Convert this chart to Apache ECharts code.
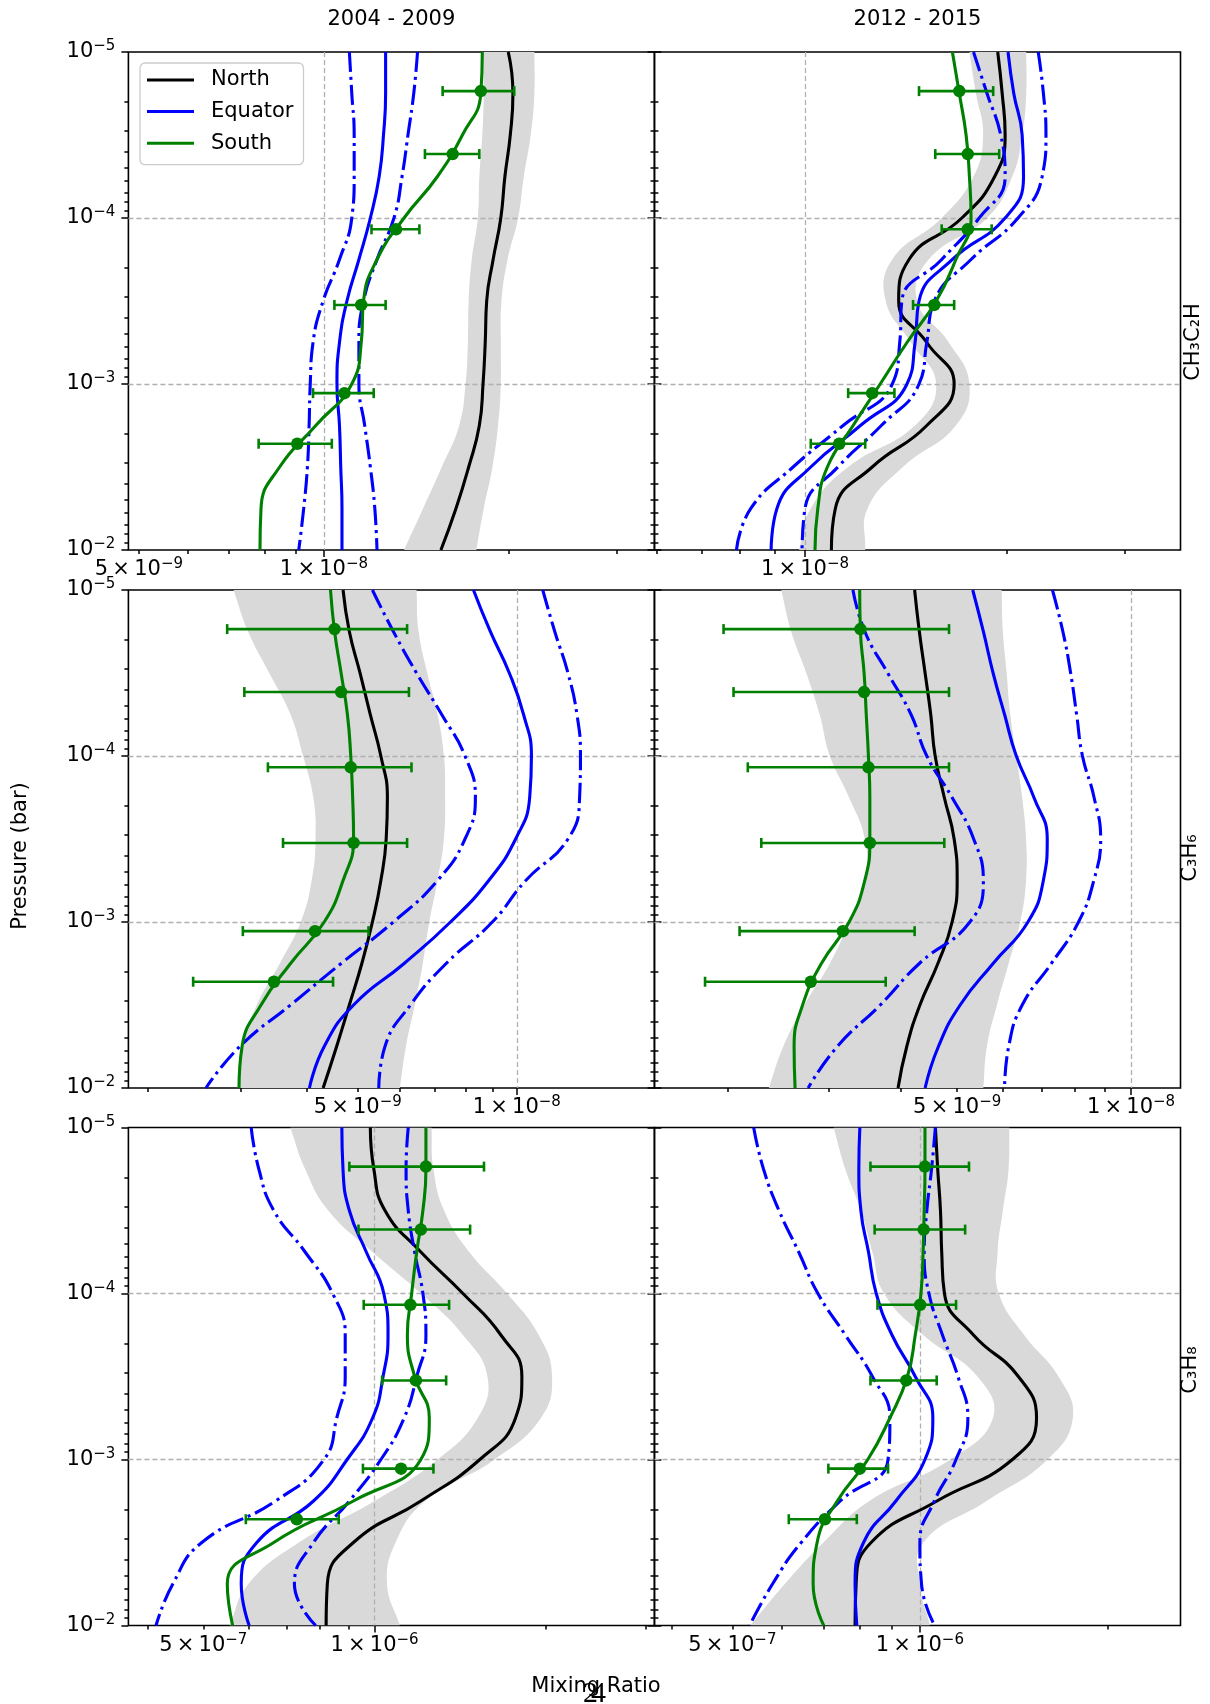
<!DOCTYPE html>
<html>
<head>
<meta charset="utf-8">
<script src="https://cdn.jsdelivr.net/npm/echarts@6/dist/echarts.min.js"></script>
<style>
  html, body { margin: 0; padding: 0; background: #ffffff; }
  #chart { width: 1210px; height: 1704px; }
</style>
</head>
<body>
<div id="chart"></div>
<script>
// ---------------------------------------------------------------------------
// Vertical mixing-ratio profiles of three hydrocarbons, two epochs.
// Curve values are listed top (1e-5 bar) to bottom (1e-2 bar) on `levels`.
// Units: CH3C2H and C3H6 in ppb (1e-9), C3H8 in ppm (1e-6).
// ---------------------------------------------------------------------------
const PPB = 1e-9;
const PPM = 1e-6;

const levels = [1.0e-5, 1.778e-5, 3.162e-5, 5.623e-5, 1.0e-4, 1.778e-4, 3.162e-4,
                5.623e-4, 1.0e-3, 1.778e-3, 3.162e-3, 5.623e-3, 1.0e-2];
const obsPressure = [1.72e-5, 4.12e-5, 1.17e-4, 3.34e-4, 1.135e-3, 2.29e-3];

const periods = ['2004 - 2009', '2012 - 2015'];
const species = ['CH₃C₂H', 'C₃H₆', 'C₃H₈'];
const regionNames = ['North', 'Equator', 'South'];

// CH3C2H, 2004 - 2009 (ppb)
const ch3c2h_early_north  = [19.95, 20.3, 20.1, 19.7, 19.4, 18.85, 18.4, 18.3, 18.15, 17.9, 17.2, 16.4, 15.5];
const ch3c2h_early_bandLo = [18.15, 18.2, 18.1, 17.9, 17.8, 17.4, 17.2, 17.15, 17.0, 16.6, 15.55, 14.5, 13.5];
const ch3c2h_early_bandHi = [22.0, 22.0, 21.7, 21.15, 20.7, 19.9, 19.45, 19.4, 19.4, 19.2, 18.8, 18.2, 17.7];
const ch3c2h_early_eq     = [12.6, 12.6, 12.5, 12.3, 11.9, 11.4, 10.9, 10.6, 10.5, 10.6, 10.65, 10.7, 10.7];
const ch3c2h_early_eqLo   = [11.0, 11.1, 11.2, 11.2, 11.1, 10.6, 9.97, 9.6, 9.5, 9.46, 9.4, 9.27, 9.1];
const ch3c2h_early_eqHi   = [14.2, 14.0, 13.7, 13.4, 13.0, 12.2, 11.6, 11.4, 11.4, 11.65, 11.9, 12.1, 12.2];
const ch3c2h_early_south  = [18.1, 18.0, 16.8, 15.3, 13.5, 12.2, 11.6, 11.5, 11.1, 9.7, 8.47, 7.9, 7.87];
const ch3c2h_early_obs    = [18.0, 16.2, 13.1, 11.5, 10.8, 9.05];
const ch3c2h_early_obsLo  = [15.6, 14.6, 11.95, 10.4, 9.6, 7.83];
const ch3c2h_early_obsHi  = [20.4, 17.9, 14.3, 12.6, 12.05, 10.3];

// CH3C2H, 2012 - 2015 (ppb)
const ch3c2h_late_north  = [19.4, 19.7, 19.9, 19.2, 17.15, 14.3, 13.8, 15.2, 16.7, 15.2, 12.6, 11.1, 10.95];
const ch3c2h_late_bandLo = [17.6, 18.0, 18.45, 17.85, 16.0, 13.5, 13.2, 14.4, 15.7, 14.6, 11.6, 10.2, 9.8];
const ch3c2h_late_bandHi = [21.4, 21.4, 21.1, 20.4, 18.7, 15.3, 14.7, 16.4, 17.6, 16.8, 14.0, 12.4, 12.3];
const ch3c2h_late_eq     = [20.1, 20.5, 21.1, 21.2, 19.9, 16.6, 14.8, 14.6, 14.2, 12.1, 10.2, 9.08, 8.9];
const ch3c2h_late_eqLo   = [17.85, 18.7, 19.6, 19.9, 18.2, 16.0, 13.95, 13.85, 13.5, 11.4, 9.6, 8.3, 7.9];
const ch3c2h_late_eqHi   = [22.3, 22.7, 22.9, 22.6, 20.8, 17.7, 15.6, 15.2, 14.8, 13.0, 11.2, 10.0, 9.9];
const ch3c2h_late_south  = [16.6, 17.0, 17.4, 17.6, 17.7, 16.8, 15.7, 14.2, 12.95, 11.8, 10.8, 10.45, 10.35];
const ch3c2h_late_obs    = [17.0, 17.5, 17.5, 15.6, 12.6, 11.25];
const ch3c2h_late_obsLo  = [14.8, 15.65, 16.0, 14.5, 11.6, 10.2];
const ch3c2h_late_obsHi  = [19.1, 19.5, 19.0, 16.7, 13.6, 12.3];

// C3H6, 2004 - 2009 (ppb)
const c3h6_early_north  = [4.69, 4.82, 5.05, 5.28, 5.53, 5.69, 5.66, 5.53, 5.33, 5.09, 4.82, 4.56, 4.30];
const c3h6_early_bandLo = [2.91, 3.10, 3.40, 3.73, 3.94, 4.12, 4.16, 4.09, 3.90, 3.56, 3.22, 3.02, 2.97];
const c3h6_early_bandHi = [6.46, 6.52, 6.77, 7.08, 7.28, 7.32, 7.28, 7.08, 6.83, 6.64, 6.41, 6.17, 6.01];
const c3h6_early_eq     = [8.28, 8.91, 9.68, 10.3, 10.66, 10.58, 9.95, 8.85, 7.49, 6.12, 4.91, 4.32, 4.05];
const c3h6_early_eqLo   = [5.33, 5.84, 6.46, 7.21, 7.98, 8.35, 7.98, 7.08, 5.84, 4.65, 3.73, 2.99, 2.58];
const c3h6_early_eqHi   = [11.2, 11.8, 12.5, 13.0, 13.2, 13.15, 12.5, 10.4, 8.99, 7.35, 6.29, 5.63, 5.48];
const c3h6_early_south  = [4.44, 4.52, 4.65, 4.78, 4.85, 4.89, 4.91, 4.69, 4.32, 3.73, 3.28, 3.02, 2.98];
const c3h6_early_obs    = [4.52, 4.65, 4.85, 4.91, 4.15, 3.47];
const c3h6_early_obsLo  = [2.83, 3.05, 3.38, 3.61, 3.03, 2.44];
const c3h6_early_obsHi  = [6.20, 6.25, 6.32, 6.20, 5.24, 4.49];

// C3H6, 2012 - 2015 (ppb)
const c3h6_late_north  = [4.22, 4.30, 4.40, 4.50, 4.58, 4.75, 4.94, 5.00, 4.90, 4.63, 4.31, 4.09, 3.95];
const c3h6_late_bandLo = [2.48, 2.58, 2.74, 2.89, 3.01, 3.25, 3.46, 3.46, 3.25, 3.01, 2.72, 2.50, 2.36];
const c3h6_late_bandHi = [5.97, 6.00, 6.09, 6.18, 6.33, 6.48, 6.58, 6.58, 6.43, 6.14, 5.86, 5.63, 5.55];
const c3h6_late_eq     = [5.32, 5.55, 5.77, 6.04, 6.33, 6.79, 7.16, 7.05, 6.63, 5.77, 5.06, 4.64, 4.40];
const c3h6_late_eqLo   = [3.30, 3.46, 3.79, 4.16, 4.43, 4.90, 5.34, 5.55, 5.26, 4.30, 3.68, 3.10, 2.76];
const c3h6_late_eqHi   = [7.31, 7.62, 7.86, 8.05, 8.24, 8.63, 8.86, 8.62, 8.11, 7.28, 6.48, 6.14, 6.04];
const c3h6_late_south  = [3.39, 3.40, 3.45, 3.48, 3.51, 3.53, 3.53, 3.46, 3.25, 2.91, 2.70, 2.61, 2.62];
const c3h6_late_obs    = [3.40, 3.45, 3.51, 3.53, 3.17, 2.79];
const c3h6_late_obsLo  = [1.97, 2.05, 2.17, 2.29, 2.10, 1.83];
const c3h6_late_obsHi  = [4.84, 4.84, 4.84, 4.75, 4.22, 3.76];

// C3H8, 2004 - 2009 (ppm)
const c3h8_early_north  = [0.983, 0.997, 1.043, 1.206, 1.43, 1.667, 1.815, 1.769, 1.531, 1.206, 0.918, 0.826, 0.822];
const c3h8_early_bandLo = [0.711, 0.755, 0.829, 0.992, 1.206, 1.43, 1.579, 1.518, 1.291, 1.0, 0.736, 0.60, 0.556];
const c3h8_early_bandHi = [1.259, 1.269, 1.325, 1.467, 1.71, 1.943, 2.051, 1.96, 1.625, 1.227, 1.089, 1.052, 1.108];
const c3h8_early_eq     = [0.876, 0.88, 0.903, 0.967, 1.038, 1.056, 1.035, 0.992, 0.895, 0.781, 0.621, 0.583, 0.602];
const c3h8_early_eqLo   = [0.607, 0.626, 0.665, 0.755, 0.844, 0.888, 0.888, 0.858, 0.815, 0.670, 0.497, 0.442, 0.413];
const c3h8_early_eqHi   = [1.146, 1.136, 1.146, 1.176, 1.216, 1.231, 1.186, 1.127, 1.026, 0.903, 0.781, 0.723, 0.788];
const c3h8_early_south  = [1.231, 1.231, 1.216, 1.186, 1.162, 1.142, 1.176, 1.248, 1.206, 0.918, 0.665, 0.551, 0.563];
const c3h8_early_obs    = [1.231, 1.206, 1.156, 1.182, 1.113, 0.730];
const c3h8_early_obsLo  = [0.903, 0.937, 0.957, 1.031, 0.954, 0.594];
const c3h8_early_obsHi  = [1.557, 1.472, 1.352, 1.336, 1.269, 0.865];

// C3H8, 2012 - 2015 (ppm)
const c3h8_late_north  = [1.059, 1.068, 1.079, 1.084, 1.095, 1.219, 1.439, 1.539, 1.408, 1.065, 0.835, 0.790, 0.787];
const c3h8_late_bandLo = [0.727, 0.759, 0.804, 0.839, 0.876, 1.012, 1.237, 1.31, 1.119, 0.83, 0.70, 0.607, 0.534];
const c3h8_late_bandHi = [1.392, 1.388, 1.359, 1.333, 1.339, 1.47, 1.669, 1.76, 1.603, 1.28, 1.013, 1.0, 1.038];
const c3h8_late_eq     = [0.801, 0.798, 0.804, 0.827, 0.851, 0.902, 0.983, 1.049, 1.019, 0.915, 0.812, 0.787, 0.792];
const c3h8_late_eqLo   = [0.541, 0.561, 0.594, 0.639, 0.686, 0.759, 0.839, 0.895, 0.889, 0.745, 0.645, 0.580, 0.533];
const c3h8_late_eqHi   = [1.059, 1.044, 1.026, 1.016, 1.034, 1.087, 1.151, 1.194, 1.143, 1.055, 1.0, 1.006, 1.056];
const c3h8_late_south  = [1.019, 1.019, 1.016, 1.012, 1.004, 0.983, 0.955, 0.895, 0.825, 0.737, 0.684, 0.674, 0.701];
const c3h8_late_obs    = [1.019, 1.014, 1.001, 0.951, 0.801, 0.704];
const c3h8_late_obsLo  = [0.833, 0.846, 0.855, 0.833, 0.713, 0.616];
const c3h8_late_obsHi  = [1.199, 1.182, 1.143, 1.064, 0.889, 0.792];

// x-axis ranges (mixing ratio) and labelled ticks per panel
const xRanges = [[4.807e-9, 3.449e-8], [5.96e-9, 3.637e-8],
                 [1.84e-9, 1.822e-8],  [1.496e-9, 1.218e-8],
                 [3.693e-7, 3.103e-6], [3.75e-7, 2.62e-6]];
const xLabelValues = [[5e-9, 1e-8], [5e-9, 1e-8],
                      [5e-9, 1e-8], [5e-9, 1e-8],
                      [5e-7, 1e-6], [5e-7, 1e-6]];
const yLabelValues = [1e-5, 1e-4, 1e-3, 1e-2];

// ---------------------------------------------------------------------------
const FONT = 'DejaVu Sans';
const BLUE = '#0000ff', GREEN = '#008000', BLACK = '#000000', BAND = '#d9d9d9';
const DASHDOT = [20, 5, 3, 5];
const GRID_LEFT = [128.4, 654.5];
const GRID_TOP = [52, 590, 1127.5];
const GRID_W = 526, GRID_H = 498;

const lg = v => Math.log10(v);

const panels = [
  { unit: PPB, north: ch3c2h_early_north, bandLo: ch3c2h_early_bandLo, bandHi: ch3c2h_early_bandHi,
    eq: ch3c2h_early_eq, eqLo: ch3c2h_early_eqLo, eqHi: ch3c2h_early_eqHi, south: ch3c2h_early_south,
    obs: ch3c2h_early_obs, obsLo: ch3c2h_early_obsLo, obsHi: ch3c2h_early_obsHi },
  { unit: PPB, north: ch3c2h_late_north, bandLo: ch3c2h_late_bandLo, bandHi: ch3c2h_late_bandHi,
    eq: ch3c2h_late_eq, eqLo: ch3c2h_late_eqLo, eqHi: ch3c2h_late_eqHi, south: ch3c2h_late_south,
    obs: ch3c2h_late_obs, obsLo: ch3c2h_late_obsLo, obsHi: ch3c2h_late_obsHi },
  { unit: PPB, north: c3h6_early_north, bandLo: c3h6_early_bandLo, bandHi: c3h6_early_bandHi,
    eq: c3h6_early_eq, eqLo: c3h6_early_eqLo, eqHi: c3h6_early_eqHi, south: c3h6_early_south,
    obs: c3h6_early_obs, obsLo: c3h6_early_obsLo, obsHi: c3h6_early_obsHi },
  { unit: PPB, north: c3h6_late_north, bandLo: c3h6_late_bandLo, bandHi: c3h6_late_bandHi,
    eq: c3h6_late_eq, eqLo: c3h6_late_eqLo, eqHi: c3h6_late_eqHi, south: c3h6_late_south,
    obs: c3h6_late_obs, obsLo: c3h6_late_obsLo, obsHi: c3h6_late_obsHi },
  { unit: PPM, north: c3h8_early_north, bandLo: c3h8_early_bandLo, bandHi: c3h8_early_bandHi,
    eq: c3h8_early_eq, eqLo: c3h8_early_eqLo, eqHi: c3h8_early_eqHi, south: c3h8_early_south,
    obs: c3h8_early_obs, obsLo: c3h8_early_obsLo, obsHi: c3h8_early_obsHi },
  { unit: PPM, north: c3h8_late_north, bandLo: c3h8_late_bandLo, bandHi: c3h8_late_bandHi,
    eq: c3h8_late_eq, eqLo: c3h8_late_eqLo, eqHi: c3h8_late_eqHi, south: c3h8_late_south,
    obs: c3h8_late_obs, obsLo: c3h8_late_obsLo, obsHi: c3h8_late_obsHi }
];

// tick label text: mantissa × 10 with a raised exponent (rich text)
const richLabel = {
  b: { fontFamily: FONT, fontSize: 21, color: BLACK, lineHeight: 26 },
  s: { fontFamily: FONT, fontSize: 15, color: BLACK, lineHeight: 16, verticalAlign: 'top' }
};
const expText = n => (n < 0 ? '\u2212' + (-n) : String(n));

function fmtX(v) {
  const n = Math.floor(v + 1e-9);
  const m = Math.round(Math.pow(10, v - n));
  return '{b|' + m + '\u2009×\u200910}{s|' + expText(n) + '}';
}
function fmtY(v) {
  return '{b|10}{s|' + expText(Math.round(v)) + '}';
}

// log-spaced tick positions inside [a, b] (both in log10 units)
function minorTicks(a, b) {
  const out = [];
  for (let n = Math.floor(a) - 1; n <= Math.ceil(b); n++) {
    for (let k = 2; k <= 9; k++) {
      const v = n + Math.log10(k);
      if (v >= a - 1e-9 && v <= b + 1e-9) out.push(v);
    }
  }
  return out;
}
function majorTicks(a, b) {
  const out = [];
  for (let n = Math.ceil(a - 1e-9); n <= Math.floor(b + 1e-9); n++) out.push(n);
  return out;
}

const tickLine = { color: BLACK, width: 1.5 };

function xAxesFor(gi, range, labels) {
  const a = lg(range[0]), b = lg(range[1]);
  const common = { type: 'value', gridIndex: gi, position: 'bottom', min: a, max: b,
                   axisLine: { show: false }, splitLine: { show: false } };
  return [
    Object.assign({}, common, {
      axisTick: { show: true, customValues: minorTicks(a, b), length: 4, lineStyle: tickLine },
      axisLabel: { show: true, customValues: labels.map(lg), formatter: fmtX, margin: 7, rich: richLabel }
    }),
    Object.assign({}, common, {
      axisTick: { show: true, customValues: majorTicks(a, b), length: 7, lineStyle: tickLine },
      axisLabel: { show: false }
    })
  ];
}

function yAxesFor(gi, col) {
  const a = lg(levels[0]), b = lg(levels[levels.length - 1]);
  const common = { type: 'value', gridIndex: gi, min: a, max: b, inverse: true,
                   axisLine: { show: false }, splitLine: { show: false } };
  const minor = side => Object.assign({}, common, {
    position: side,
    axisTick: { show: true, customValues: minorTicks(a, b), length: 4, lineStyle: tickLine },
    axisLabel: (side === 'left' && col === 0)
      ? { show: true, customValues: yLabelValues.map(lg), formatter: fmtY, margin: 13, rich: richLabel }
      : { show: false }
  });
  const major = side => Object.assign({}, common, {
    position: side,
    axisTick: { show: true, customValues: majorTicks(a, b), length: 7, lineStyle: tickLine },
    axisLabel: { show: false }
  });
  const axes = [minor('left'), major('left')];
  if (col === 0) axes.push(minor('right'), major('right'));
  return axes;
}

// shaded envelope around the northern profile; corner points are doubled so
// the smoothing keeps square ends at the top and bottom of the panel
function renderBand(params, api) {
  if (params.dataIndex !== 0) return null;
  const n = params.dataInsideLength;
  const left = [], right = [];
  for (let i = 0; i < n; i++) {
    left.push(api.coord([api.value(0, i), api.value(2, i)]));
    right.push(api.coord([api.value(1, i), api.value(2, i)]));
  }
  right.reverse();
  const pts = [left[0]].concat(left, [left[n - 1], right[0]], right, [right[n - 1]]);
  const cs = params.coordSys;
  return {
    type: 'polygon',
    shape: {
      points: pts,
      smooth: 0.45,
      smoothConstraint: [[cs.x, cs.y], [cs.x + cs.width, cs.y + cs.height]]
    },
    style: { fill: BAND, stroke: null }
  };
}

// horizontal error bar with end caps
function renderErrorBar(params, api) {
  const lo = api.coord([api.value(2), api.value(1)]);
  const hi = api.coord([api.value(3), api.value(1)]);
  const h = 5;
  const style = { stroke: GREEN, lineWidth: 2.6, fill: null };
  return {
    type: 'group',
    children: [
      { type: 'line', shape: { x1: lo[0], y1: lo[1], x2: hi[0], y2: hi[1] }, style },
      { type: 'line', shape: { x1: lo[0], y1: lo[1] - h, x2: lo[0], y2: lo[1] + h }, style },
      { type: 'line', shape: { x1: hi[0], y1: hi[1] - h, x2: hi[0], y2: hi[1] + h }, style }
    ]
  };
}

const grids = [], xAxes = [], yAxes = [], series = [];

panels.forEach((pn, gi) => {
  const row = Math.floor(gi / 2), col = gi % 2;
  grids.push({ left: GRID_LEFT[col], top: GRID_TOP[row], width: GRID_W, height: GRID_H,
               show: true, borderColor: BLACK, borderWidth: 1.6, backgroundColor: 'transparent' });
  const xi = xAxes.length;
  xAxes.push(...xAxesFor(gi, xRanges[gi], xLabelValues[gi]));
  const yi = yAxes.length;
  yAxes.push(...yAxesFor(gi, col));
  const ax = { xAxisIndex: xi, yAxisIndex: yi };
  const u = pn.unit;
  const profile = vals => vals.map((v, i) => [lg(v * u), lg(levels[i])]);

  // envelope
  series.push(Object.assign({
    type: 'custom', name: 'North range', z: 1, silent: true, clip: true,
    encode: { x: [0, 1], y: 2 },
    data: levels.map((p, i) => [lg(pn.bandLo[i] * u), lg(pn.bandHi[i] * u), lg(p)]),
    renderItem: renderBand
  }, ax));

  // dashed grid lines at decades
  const xa = lg(xRanges[gi][0]), xb = lg(xRanges[gi][1]);
  const gridMarks = majorTicks(xa, xb).map(v => ({ xAxis: v }))
    .concat([1e-4, 1e-3].map(p => ({ yAxis: lg(p) })));
  series.push(Object.assign({
    type: 'line', name: 'grid', data: [], silent: true,
    markLine: {
      silent: true, z: 2, animation: false, symbol: ['none', 'none'],
      label: { show: false }, emphasis: { disabled: true },
      lineStyle: { color: '#b0b0b0', width: 1.3, type: [5, 3] },
      data: gridMarks
    }
  }, ax));

  const line = (name, vals, color, dash) => Object.assign({
    type: 'line', name, z: 3, silent: true, smooth: 0.5, showSymbol: false, symbol: 'none',
    data: profile(vals),
    lineStyle: { color, width: 3.1, type: dash || 'solid', cap: 'butt' },
    itemStyle: { color }, emphasis: { disabled: true }
  }, ax);

  series.push(line(regionNames[0], pn.north, BLACK));
  series.push(line(regionNames[1], pn.eq, BLUE));
  series.push(line('Equator lower', pn.eqLo, BLUE, DASHDOT));
  series.push(line('Equator upper', pn.eqHi, BLUE, DASHDOT));
  series.push(line(regionNames[2], pn.south, GREEN));

  // retrieved values with uncertainties
  series.push(Object.assign({
    type: 'custom', name: 'South error', z: 4, silent: true,
    encode: { x: [0, 2, 3], y: 1 },
    data: pn.obs.map((v, i) => [lg(v * u), lg(obsPressure[i]), lg(pn.obsLo[i] * u), lg(pn.obsHi[i] * u)]),
    renderItem: renderErrorBar
  }, ax));
  series.push(Object.assign({
    type: 'scatter', name: 'South points', z: 5, silent: true,
    symbol: 'circle', symbolSize: 12.5,
    itemStyle: { color: GREEN, opacity: 1 },
    data: pn.obs.map((v, i) => [lg(v * u), lg(obsPressure[i])])
  }, ax));
});

const textStyle = (text, extra) => Object.assign({
  text, fill: BLACK, fontFamily: FONT, fontSize: 21, align: 'center', verticalAlign: 'middle'
}, extra || {});

const graphics = [
  { type: 'text', x: GRID_LEFT[0] + GRID_W / 2, y: 20, style: textStyle(periods[0]) },
  { type: 'text', x: GRID_LEFT[1] + GRID_W / 2, y: 20, style: textStyle(periods[1]) },
  { type: 'text', x: 21, y: 856, rotation: Math.PI / 2, style: textStyle('Pressure (bar)') },
  { type: 'text', x: 596, y: 1687, style: textStyle('Mixing Ratio') },
  { type: 'text', x: 583, y: 1694, style: textStyle('2', { fontFamily: 'Liberation Serif', fontSize: 30, align: 'left' }) },
  { type: 'text', x: 591, y: 1694, style: textStyle('4', { fontFamily: 'Liberation Serif', fontSize: 30, align: 'left' }) },
  { type: 'text', x: 1194, y: 342, rotation: Math.PI / 2, style: textStyle(species[0]) },
  { type: 'text', x: 1191, y: 858, rotation: Math.PI / 2, style: textStyle(species[1]) },
  { type: 'text', x: 1191, y: 1370, rotation: Math.PI / 2, style: textStyle(species[2]) }
];

const chart = echarts.init(document.getElementById('chart'), null, { renderer: 'canvas' });
chart.setOption({
  animation: false,
  backgroundColor: '#ffffff',
  grid: grids,
  xAxis: xAxes,
  yAxis: yAxes,
  legend: {
    data: regionNames,
    orient: 'vertical',
    left: 140, top: 63,
    icon: 'rect',
    itemWidth: 47, itemHeight: 3, itemGap: 10.6,
    padding: [6.5, 10, 11, 7],
    selectedMode: false,
    backgroundColor: 'rgba(255,255,255,0.85)',
    borderColor: '#cccccc', borderWidth: 1.3, borderRadius: 5,
    itemStyle: { borderWidth: 0 },
    textStyle: { fontFamily: FONT, fontSize: 21, color: BLACK, lineHeight: 21, padding: [0, 0, 0, 12] }
  },
  graphic: graphics,
  series
});
</script>
</body>
</html>
